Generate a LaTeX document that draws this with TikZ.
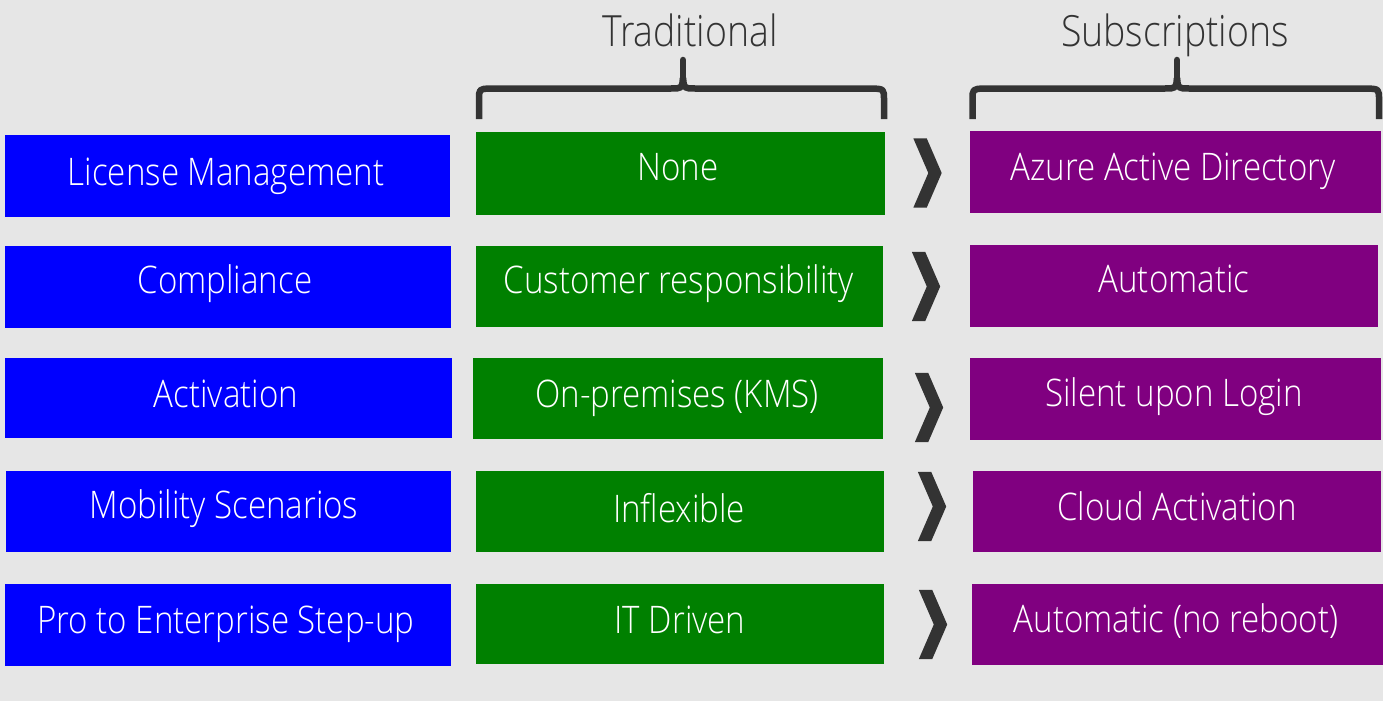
\documentclass[tikz,border=0pt]{standalone}
\usepackage{fontspec}
\setmainfont{Open Sans Light}[FakeStretch=0.87]
\definecolor{bg}{HTML}{E6E6E6}
\definecolor{dk}{HTML}{333333}
\definecolor{cblue}{HTML}{0000FF}
\definecolor{cgreen}{HTML}{008000}
\definecolor{cpurple}{HTML}{800080}
\begin{document}
\begin{tikzpicture}[x=1pt,y=-1pt,
  box/.style={draw=none,inner sep=0pt,outer sep=0pt},
  bluebox/.style={box,fill=cblue},
  greenbox/.style={box,fill=cgreen},
  purplebox/.style={box,fill=cpurple},
  boxtext/.style={anchor=base,inner sep=0pt,text=white,font=\fontsize{38}{40}\selectfont},
  headtext/.style={anchor=base,inner sep=0pt,text=dk,font=\fontsize{43}{46}\selectfont},
  bracepath/.style={draw=dk,line width=6.5pt,line join=round},
  pics/chev/.style={code={\fill[dk] (-14.2,-34.7) -- (-0.8,-34.7) -- (14.2,0) -- (-0.8,34.7) -- (-14.2,34.7) -- (0.8,0) -- cycle;}}
]
\fill[bg] (0,0) rectangle (1383,701);
\useasboundingbox (0,0) rectangle (1383,701);

% headers
\node[headtext] (hT) at (690,46.5) {Traditional};
\node[headtext] (hS) at (1175,46.5) {Subscriptions};

% braces
\draw[bracepath] (479,119) -- (479,100) .. controls (479,89) .. (490,88.5) -- (671,88.5) .. controls (682,88.5) .. (683,78);
\draw[bracepath] (683,78) .. controls (684,88.5) .. (695,88.5) -- (872,88.5) .. controls (884,89) .. (884,100) -- (884,119);
\draw[bracepath,line cap=round] (683,80) -- (683,60);
\draw[bracepath] (972.5,119) -- (972.5,100) .. controls (972.5,89) .. (984,88.5) -- (1165,88.5) .. controls (1176,88.5) .. (1177,78);
\draw[bracepath] (1177,78) .. controls (1178,88.5) .. (1189,88.5) -- (1367,88.5) .. controls (1379,89) .. (1379,100) -- (1379,119);
\draw[bracepath,line cap=round] (1177,80) -- (1177,60);

% row 1
\node[bluebox,minimum width=445pt,minimum height=82pt] (b1) at (227.5,176) {};
\node[greenbox,minimum width=409pt,minimum height=83pt] (g1) at (680.5,173.5) {};
\node[purplebox,minimum width=411pt,minimum height=82pt] (p1) at (1175.5,172) {};
\node[boxtext] (tb1) at (226,185) {License Management};
\node[boxtext] (tg1) at (678,180) {None};
\node[boxtext] (tp1) at (1173,180) {Azure Active Directory};
\pic at (927.5,173) {chev};

% row 2
\node[bluebox,minimum width=446pt,minimum height=82pt] (b2) at (228,287) {};
\node[greenbox,minimum width=407pt,minimum height=81pt] (g2) at (679.5,286.5) {};
\node[purplebox,minimum width=408pt,minimum height=82pt] (p2) at (1174,286) {};
\node[boxtext] (tb2) at (225,293) {Compliance};
\node[boxtext] (tg2) at (679,293) {Customer responsibility};
\node[boxtext] (tp2) at (1174,292) {Automatic};
\pic at (926,286.5) {chev};

% row 3
\node[bluebox,minimum width=447pt,minimum height=80pt] (b3) at (228.5,398) {};
\node[greenbox,minimum width=410pt,minimum height=81pt] (g3) at (678,398.5) {};
\node[purplebox,minimum width=411pt,minimum height=82pt] (p3) at (1175.5,399) {};
\node[boxtext] (tb3) at (226,407) {Activation};
\node[boxtext] (tg3) at (677,407) {On-premises (KMS)};
\node[boxtext] (tp3) at (1174,406) {Silent upon Login};
\pic at (929,407.5) {chev};

% row 4
\node[bluebox,minimum width=445pt,minimum height=81pt] (b4) at (228.5,511.5) {};
\node[greenbox,minimum width=408pt,minimum height=81pt] (g4) at (680,511.5) {};
\node[purplebox,minimum width=408pt,minimum height=81pt] (p4) at (1177,511.5) {};
\node[boxtext] (tb4) at (224,518) {Mobility Scenarios};
\node[boxtext] (tg4) at (679,522) {Inflexible};
\node[boxtext] (tp4) at (1177,520) {Cloud Activation};
\pic at (932,506.5) {chev};

% row 5
\node[bluebox,minimum width=446pt,minimum height=82pt] (b5) at (228,625) {};
\node[greenbox,minimum width=408pt,minimum height=80pt] (g5) at (680,624) {};
\node[purplebox,minimum width=411pt,minimum height=81pt] (p5) at (1177.5,624.5) {};
\node[boxtext] (tb5) at (226,633) {Pro to Enterprise Step-up};
\node[boxtext] (tg5) at (680,633) {IT Driven};
\node[boxtext] (tp5) at (1176,632) {Automatic (no reboot)};
\pic at (933,624.5) {chev};
\end{tikzpicture}
\end{document}
